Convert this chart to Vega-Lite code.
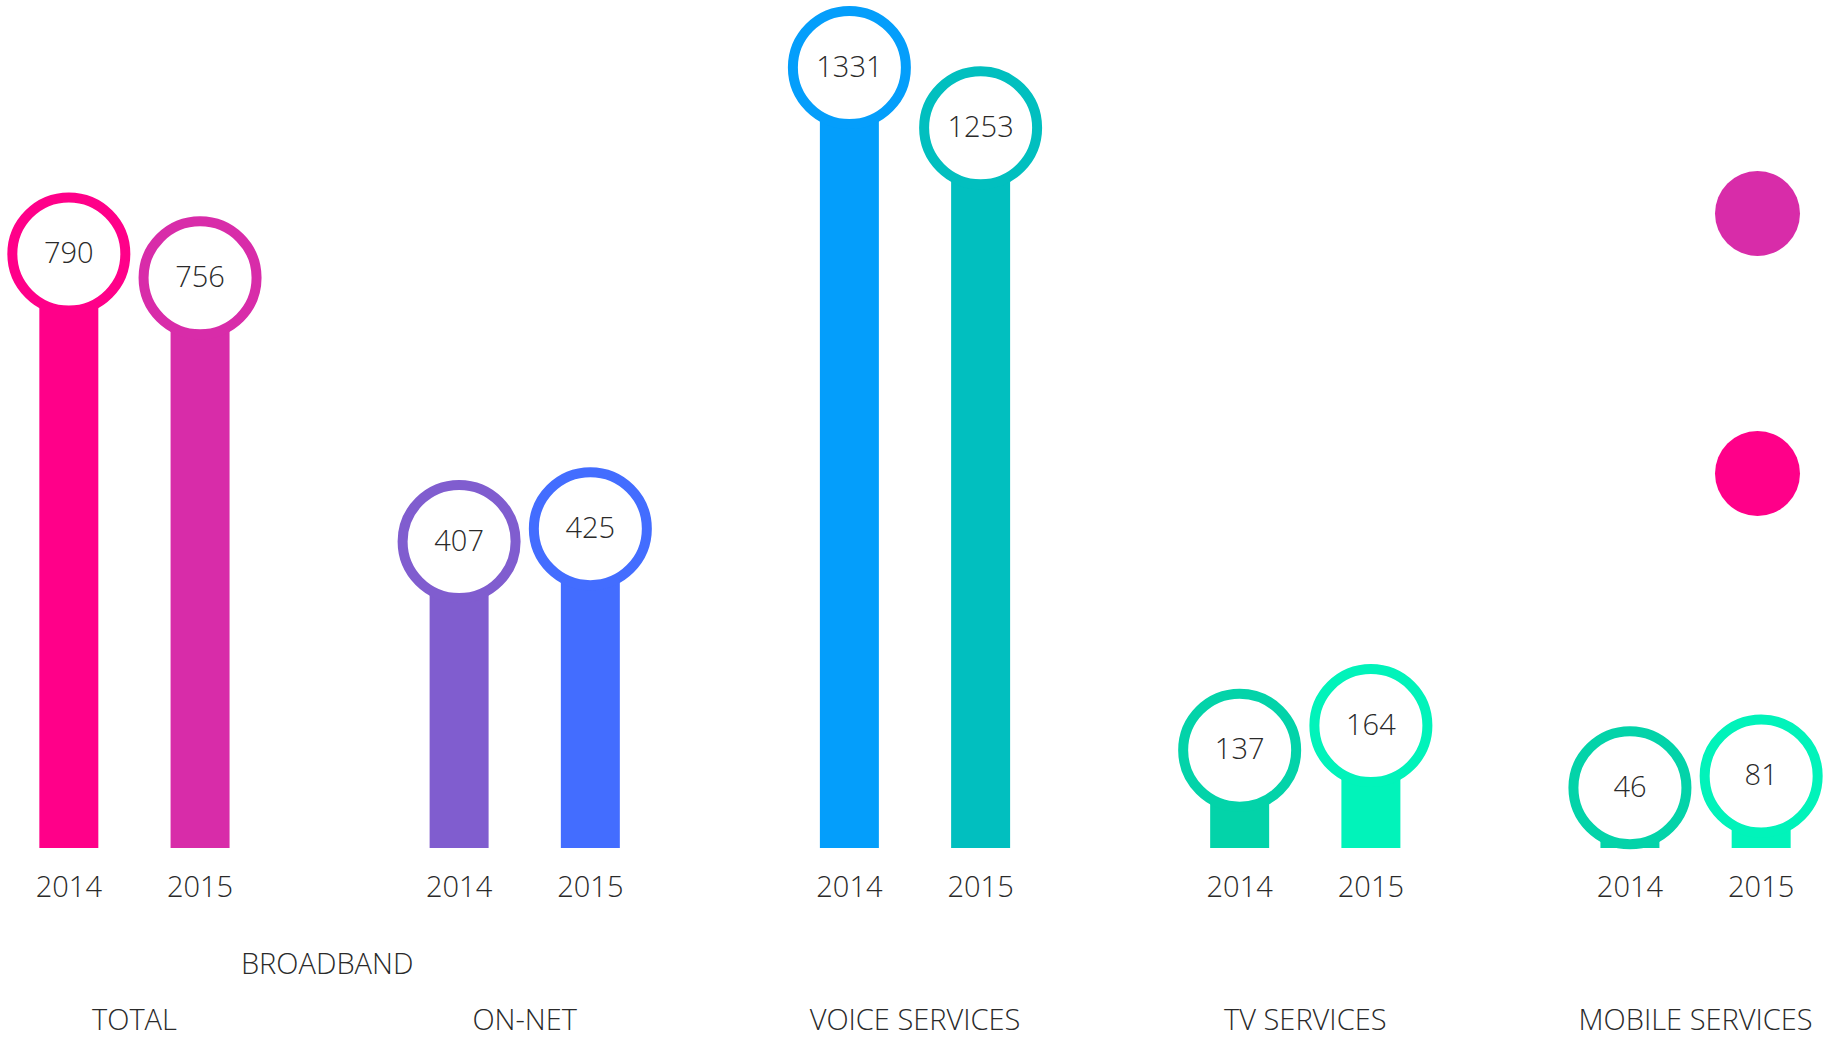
{
  "$schema": "https://vega.github.io/schema/vega-lite/v6.json",
  "width": 1830,
  "height": 848,
  "autosize": {"type": "none"},
  "padding": {"left": 0, "right": 8, "top": 0, "bottom": 189},
  "background": "white",
  "config": {
    "view": {"stroke": null},
    "font": "Open Sans",
    "axis": {"domain": false, "ticks": false, "grid": false}
  },
  "data": {
    "values": [
      {"group": "TOTAL", "year": "2014", "value": 790, "series": "TOTAL 2014"},
      {"group": "TOTAL", "year": "2015", "value": 756, "series": "TOTAL 2015"},
      {"group": "ON-NET", "year": "2014", "value": 407, "series": "ON-NET 2014"},
      {"group": "ON-NET", "year": "2015", "value": 425, "series": "ON-NET 2015"},
      {"group": "VOICE SERVICES", "year": "2014", "value": 1331, "series": "VOICE SERVICES 2014"},
      {"group": "VOICE SERVICES", "year": "2015", "value": 1253, "series": "VOICE SERVICES 2015"},
      {"group": "TV SERVICES", "year": "2014", "value": 137, "series": "TV SERVICES 2014"},
      {"group": "TV SERVICES", "year": "2015", "value": 164, "series": "TV SERVICES 2015"},
      {"group": "MOBILE SERVICES", "year": "2014", "value": 46, "series": "MOBILE SERVICES 2014"},
      {"group": "MOBILE SERVICES", "year": "2015", "value": 81, "series": "MOBILE SERVICES 2015"}
    ]
  },
  "encoding": {
    "x": {
      "field": "group",
      "type": "nominal",
      "sort": null,
      "scale": {"paddingInner": 0.5126, "paddingOuter": 0.1008},
      "axis": {
        "title": null,
        "labelAngle": 0,
        "labelFontSize": 29,
        "labelFontWeight": 300,
        "labelColor": "#2a2a2a",
        "labelBaseline": "alphabetic",
        "labelPadding": 181,
        "labelLimit": 0,
        "labelFont": "Open Sans"
      }
    }
  },
  "layer": [
    {
      "mark": {"type": "bar"},
      "encoding": {
        "xOffset": {"field": "year", "type": "nominal", "scale": {"paddingInner": 0.5505, "paddingOuter": 0}},
        "y": {
          "field": "value",
          "type": "quantitative",
          "scale": {
            "type": "linear",
            "nice": false,
            "zero": false,
            "domain": [0, 46, 81, 137, 164, 407, 425, 756, 790, 1253, 1331],
            "range": [848, 787.7, 776, 750.2, 725.6, 541.5, 528.7, 277.8, 254, 127.8, 67.5]
          },
          "axis": null
        },
        "color": {
          "field": "series",
          "type": "nominal",
          "scale": {
            "domain": ["TOTAL 2015", "TOTAL 2014", "ON-NET 2014", "ON-NET 2015", "VOICE SERVICES 2014", "VOICE SERVICES 2015", "TV SERVICES 2014", "TV SERVICES 2015", "MOBILE SERVICES 2014", "MOBILE SERVICES 2015"],
            "range": ["#d82ca9", "#ff0089", "#805dcf", "#436dff", "#049efb", "#01bfbf", "#03d3a9", "#01f3ba", "#03d3a9", "#01f3ba"]
          },
          "legend": {
            "values": ["TOTAL 2015", "TOTAL 2014"],
            "orient": "none",
            "legendX": 1715,
            "legendY": 171,
            "title": null,
            "padding": 0,
            "symbolType": "circle",
            "symbolSize": 7225,
            "symbolStrokeWidth": 0,
            "rowPadding": 175,
            "labelExpr": "''",
            "labelFontSize": 1
          }
        }
      }
    },
    {
      "mark": {"type": "circle", "fill": "white", "strokeWidth": 10, "size": 12769, "opacity": 1},
      "encoding": {
        "xOffset": {"field": "year", "type": "nominal"},
        "y": {"field": "value", "type": "quantitative"},
        "stroke": {
          "field": "series",
          "type": "nominal",
          "scale": {
            "domain": ["TOTAL 2015", "TOTAL 2014", "ON-NET 2014", "ON-NET 2015", "VOICE SERVICES 2014", "VOICE SERVICES 2015", "TV SERVICES 2014", "TV SERVICES 2015", "MOBILE SERVICES 2014", "MOBILE SERVICES 2015"],
            "range": ["#d82ca9", "#ff0089", "#805dcf", "#436dff", "#049efb", "#01bfbf", "#03d3a9", "#01f3ba", "#03d3a9", "#01f3ba"]
          },
          "legend": null
        }
      }
    },
    {
      "mark": {"type": "text", "fontSize": 29, "fontWeight": 300, "color": "#2a2a2a", "baseline": "middle", "align": "center", "font": "Open Sans"},
      "encoding": {
        "xOffset": {"field": "year", "type": "nominal"},
        "y": {"field": "value", "type": "quantitative"},
        "text": {"field": "value", "type": "quantitative", "format": "d"}
      }
    },
    {
      "mark": {"type": "text", "fontSize": 29, "fontWeight": 300, "color": "#2a2a2a", "baseline": "alphabetic", "align": "center", "dy": 49, "font": "Open Sans"},
      "encoding": {
        "xOffset": {"field": "year", "type": "nominal"},
        "y": {"datum": 0, "type": "quantitative"},
        "text": {"field": "year", "type": "nominal"}
      }
    },
    {
      "data": {"values": [{"group": "TOTAL", "label": "BROADBAND"}]},
      "mark": {"type": "text", "fontSize": 29, "fontWeight": 300, "color": "#2a2a2a", "baseline": "alphabetic", "align": "center", "dy": 126, "font": "Open Sans"},
      "encoding": {
        "x": {"field": "group", "type": "nominal", "bandPosition": 1.513},
        "y": {"datum": 0, "type": "quantitative"},
        "text": {"field": "label", "type": "nominal"}
      }
    }
  ]
}
